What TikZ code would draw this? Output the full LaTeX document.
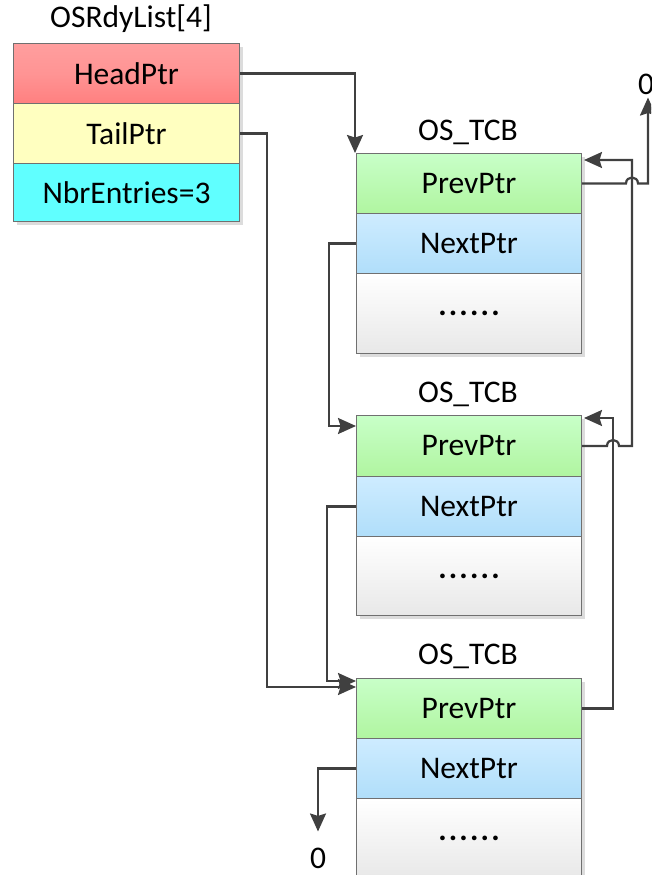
\documentclass[tikz,border=0pt]{standalone}
\usepackage{fontspec}
\setmainfont{Carlito}
\usetikzlibrary{arrows.meta}
\definecolor{linegray}{HTML}{404040}
\definecolor{boxgray}{HTML}{707070}
\definecolor{shadowgray}{HTML}{DCDCDC}
\begin{document}
\begin{tikzpicture}[x=1pt,y=-1pt,
  cell/.style={draw=boxgray, line width=1pt, minimum width=226pt, minimum height=60pt,
    inner sep=0pt, anchor=north west, font=\fontsize{31.5}{36}\selectfont},
  headc/.style={cell, top color=red!38!white, bottom color=red!50!white, middle color=red!42!white},
  tailc/.style={cell, fill={rgb,255:red,255;green,255;blue,192}},
  nbrc/.style={cell, fill={rgb,255:red,96;green,255;blue,255}},
  prevc/.style={cell, minimum width=225pt, top color={rgb,255:red,200;green,255;blue,200}, bottom color={rgb,255:red,176;green,245;blue,160}},
  nextc/.style={cell, minimum width=225pt, top color={rgb,255:red,206;green,236;blue,255}, bottom color={rgb,255:red,176;green,222;blue,250}},
  dotc/.style={cell, minimum width=225pt, minimum height=80pt, top color=white, bottom color={rgb,255:red,232;green,232;blue,232}},
  title/.style={font=\fontsize{31.5}{36}\selectfont, inner sep=0pt},
  zero/.style={font=\fontsize{31.5}{36}\selectfont, inner sep=0pt},
  conn/.style={draw=linegray, line width=2.2pt, -{Stealth[length=18pt,width=16pt,inset=2.5pt]}},
  shadow/.style={fill=shadowgray, draw=none}
]
\useasboundingbox (0,0) rectangle (651,875);
\clip (0,0) rectangle (651,875);
\fill[white] (0,0) rectangle (651,875);

\newcommand{\sixdots}{\textbf{.\hspace{2.2pt}.\hspace{2.2pt}.\hspace{2.2pt}.\hspace{2.2pt}.\hspace{2.2pt}.}}

% shadows
\fill[shadow] (17,47) rectangle (243,225);
\fill[shadow] (360,157) rectangle (585,357);
\fill[shadow] (360,419) rectangle (585,619);
\fill[shadow] (360,682) rectangle (585,880);

% OSRdyList
\node[title] (ttl) at (131,19) {OSRdyList[4]};
\node[headc] (head) at (13,43) {HeadPtr};
\node[tailc] (tail) at (13,103) {TailPtr};
\node[nbrc, minimum height=58pt] (nbr) at (13,163) {NbrEntries=3};

% TCB 1
\node[title] (tcb1) at (468,132) {OS\_TCB};
\node[prevc] (t1p) at (356,153) {PrevPtr};
\node[nextc] (t1n) at (356,213) {NextPtr};
\node[dotc] (t1d) at (356,273) {\sixdots};

% TCB 2
\node[title] (tcb2) at (468,394) {OS\_TCB};
\node[prevc, minimum height=61pt] (t2p) at (356,415) {PrevPtr};
\node[nextc] (t2n) at (356,476) {NextPtr};
\node[dotc, minimum height=79pt] (t2d) at (356,536) {\sixdots};

% TCB 3
\node[title] (tcb3) at (468,656) {OS\_TCB};
\node[prevc] (t3p) at (356,678) {PrevPtr};
\node[nextc] (t3n) at (356,738) {NextPtr};
\node[dotc] (t3d) at (356,798) {\sixdots};

% zeros
\node[zero] (zeroA) at (646,84) {0};
\node[zero] (zeroB) at (318,858) {0};

% entry points
\coordinate (t1in) at ([yshift=-7pt,xshift=2pt]t1p.north east);
\coordinate (t2inL) at ([yshift=-11pt]t2p.north west);
\coordinate (t2inR) at ([yshift=-3pt,xshift=2pt]t2p.north east);
\coordinate (t3in1) at ([yshift=-3pt]t3p.north west);
\coordinate (t3in2) at ([yshift=-9pt]t3p.north west);

% HeadPtr -> TCB1
\draw[conn] (head.east) -| ([xshift=-1pt]t1p.north west);
% TailPtr -> TCB3
\draw[conn] (tail.east) -| ([xshift=-89pt]t3in2) -- (t3in2);
% TCB1 next -> TCB2
\draw[conn] (t1n.west) -| ([xshift=-27pt]t2inL) -- (t2inL);
% TCB2 next -> TCB3
\draw[conn] (t2n.west) -| ([xshift=-29pt]t3in1) -- (t3in1);
% TCB3 next -> 0
\draw[conn] (t3n.west) -| ([yshift=16pt]zeroB.north);
% TCB1 prev -> 0
\draw[conn] (t1p.east) -- ([xshift=44pt]t1p.east)
  .. controls ([xshift=44pt,yshift=8pt]t1p.east) and ([xshift=56pt,yshift=8pt]t1p.east) .. ([xshift=56pt]t1p.east)
  -| ([xshift=2pt,yshift=-3pt]zeroA.south);
% TCB2 prev -> TCB1
\draw[conn] (t2p.east) -- ([xshift=25pt]t2p.east)
  .. controls ([xshift=25pt,yshift=8pt]t2p.east) and ([xshift=37pt,yshift=8pt]t2p.east) .. ([xshift=37pt]t2p.east)
  -| ([xshift=48pt]t1in) -- (t1in);
% TCB3 prev -> TCB2
\draw[conn] (t3p.east) -| ([xshift=29pt]t2inR) -- (t2inR);
\end{tikzpicture}
\end{document}
